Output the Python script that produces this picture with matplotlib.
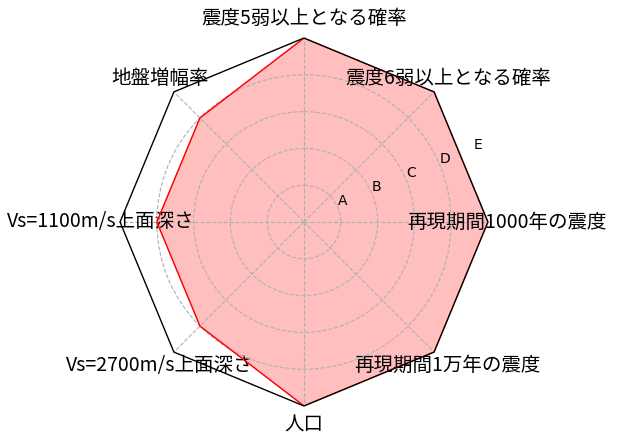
import numpy as np
import matplotlib
matplotlib.use("Agg")
import matplotlib.pyplot as plt
from matplotlib.patches import RegularPolygon
from matplotlib.path import Path
from matplotlib.projections import register_projection
from matplotlib.projections.polar import PolarAxes
from matplotlib.spines import Spine
from matplotlib.transforms import Affine2D

plt.rcParams['font.family'] = ['Noto Sans CJK JP', 'DejaVu Sans']

# data
labels = ['震度5弱以上となる確率', '震度6弱以上となる確率', '再現期間1000年の震度',
          '再現期間1万年の震度', '人口', 'Vs=2700m/s上面深さ',
          'Vs=1100m/s上面深さ', '地盤増幅率']
values = [5, 5, 5, 5, 5, 4, 4, 4]
rank_ticks = [1, 2, 3, 4, 5]
rank_labels = ['A', 'B', 'C', 'D', 'E']

N = len(labels)


# polar axes with an octagon frame, circular grid clipped to it
class RadarAxes(PolarAxes):
    name = 'radar8'

    def _gen_axes_patch(self):
        return RegularPolygon((0.5, 0.5), N, radius=.5, edgecolor="k")

    def _gen_axes_spines(self):
        spine = Spine(axes=self, spine_type='circle',
                      path=Path.unit_regular_polygon(N))
        spine.set_transform(Affine2D().scale(.5).translate(.5, .5)
                            + self.transAxes)
        return {'polar': spine}


register_projection(RadarAxes)

theta = np.linspace(0, 2 * np.pi, N, endpoint=False)

fig = plt.figure(figsize=(6.18, 4.46), dpi=100)
ax = fig.add_axes([0.1942, 0.0897, 0.5955, 0.8251], projection='radar8')
ax.set_theta_offset(np.pi / 2)
ax.set_theta_direction(-1)

vals = values + values[:1]
th = np.concatenate([theta, theta[:1]])
ax.plot(th, vals, color='red', linewidth=1)
ax.fill(th, vals, color='red', alpha=0.25)

ax.set_ylim(0, 5)
ax.set_rgrids(rank_ticks, labels=rank_labels, family='DejaVu Sans', fontsize=10)
ax.set_rlabel_position(67.5)
ax.set_thetagrids(np.degrees(theta), labels, fontsize=14)
ax.grid(True, linestyle='--', color='#b0b0b0', linewidth=0.8)
ax.spines['polar'].set_linewidth(1)

fig.savefig('out.png', dpi=100)
